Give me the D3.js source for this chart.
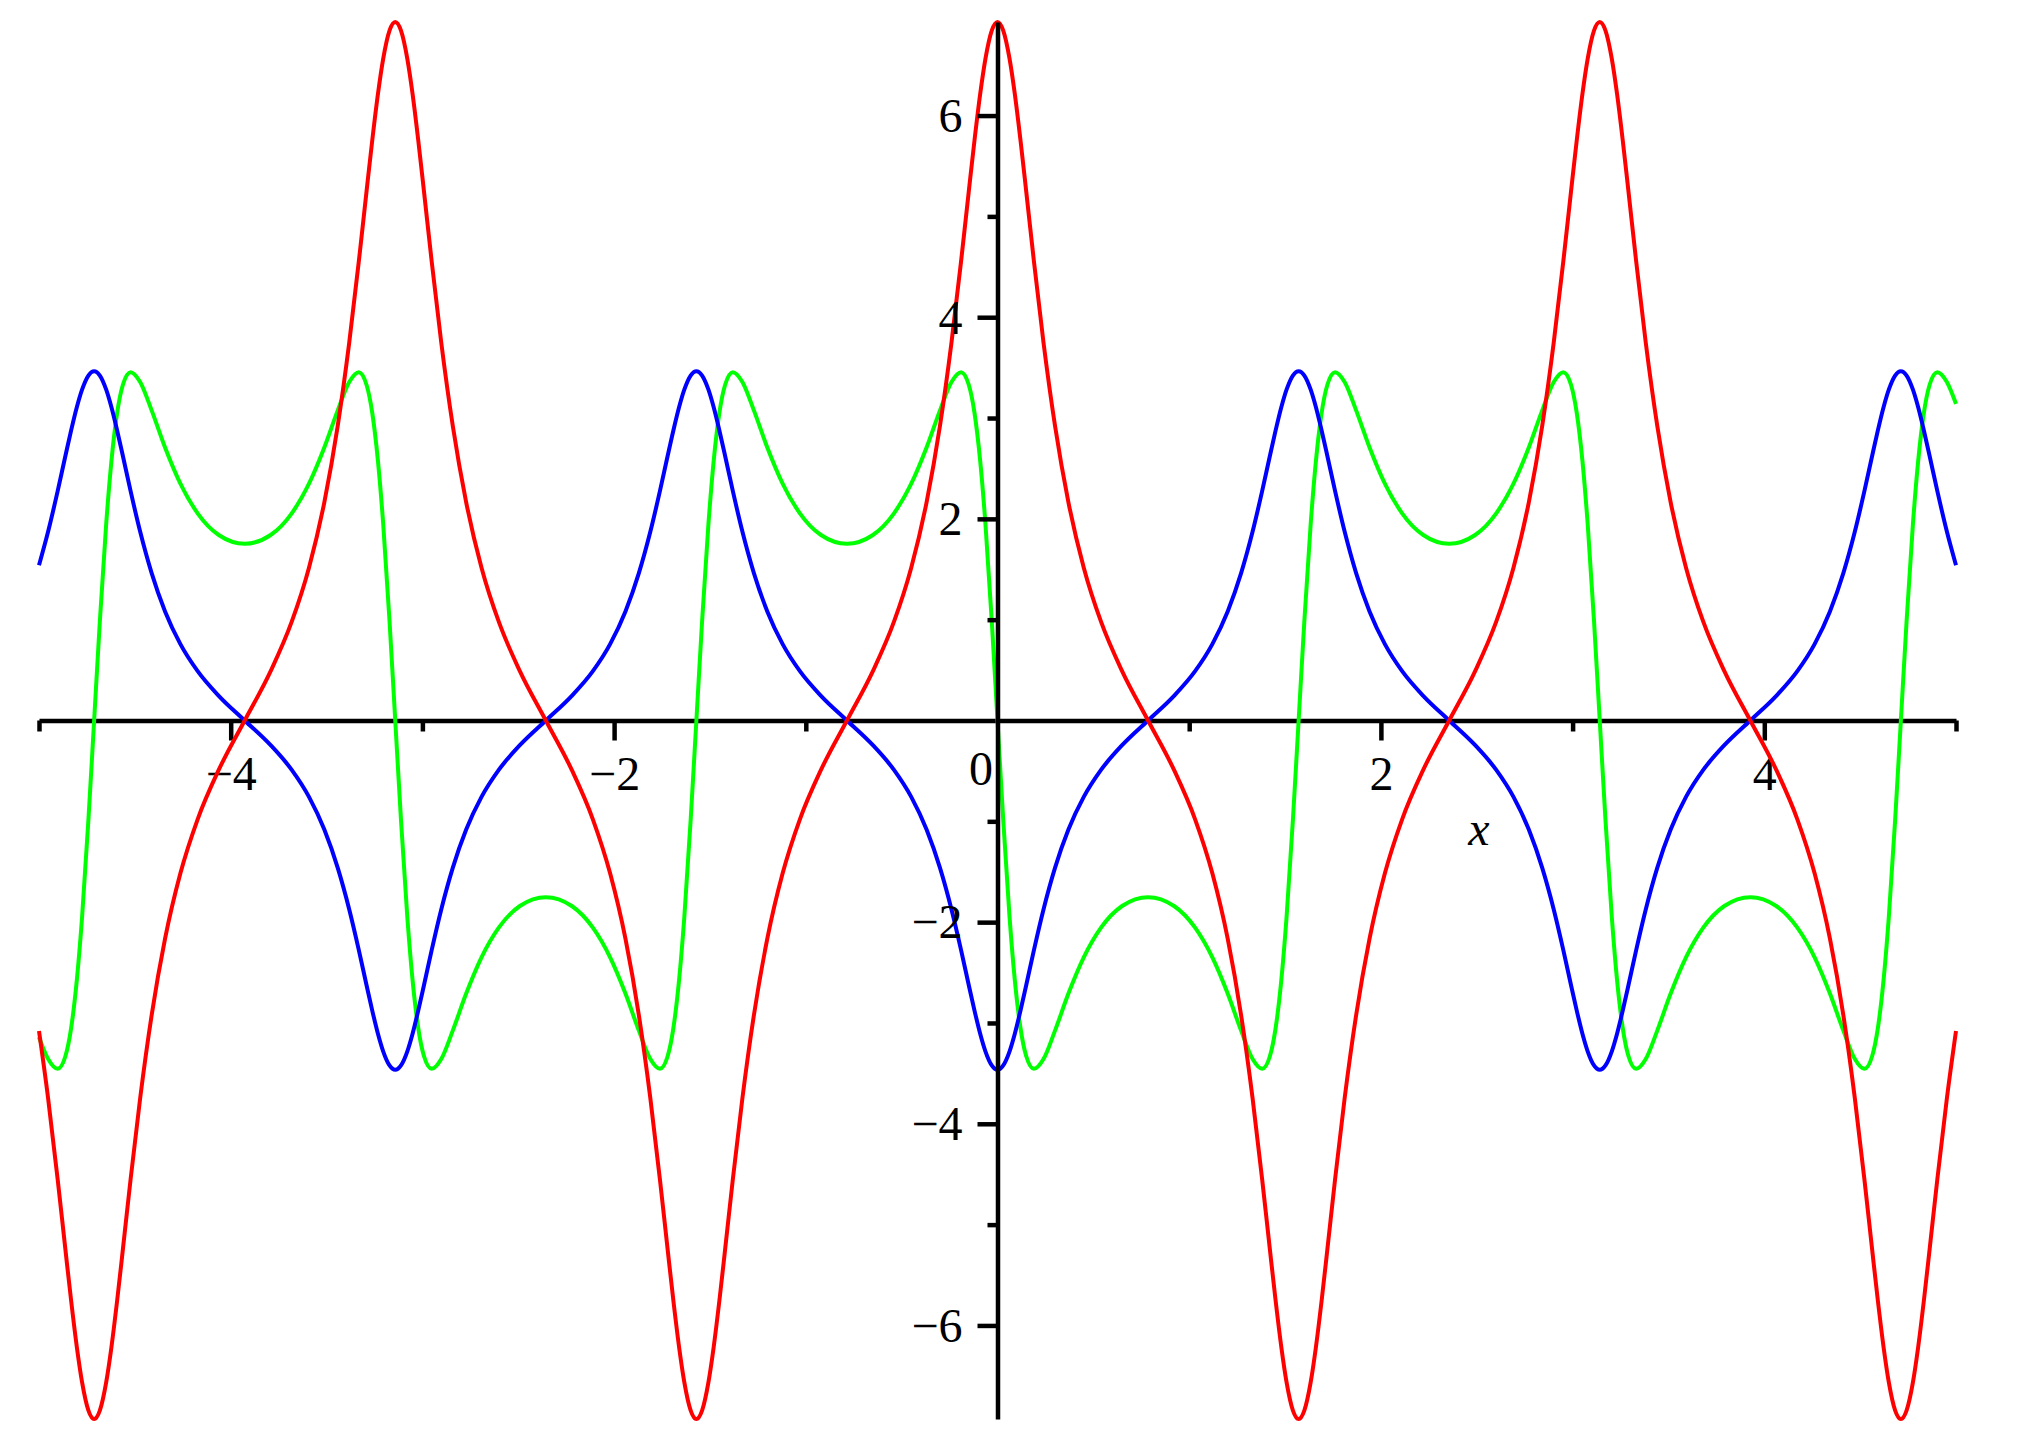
<!DOCTYPE html>
<html><head><meta charset="utf-8">
<script src="https://cdn.jsdelivr.net/npm/d3@7"></script>
<style>html,body{margin:0;padding:0;background:#fff;} svg{display:block;background:#fff;}</style>
</head><body>
<svg id="chart" width="2019" height="1439"></svg>
<script>
// Sample abscissae (denser where curves are steep)
const xValues = [
-5,-4.9524,-4.9024,-4.8624,-4.8324,-4.8024,-4.7754,-4.7424,-4.7124,-4.6824,-4.6494,-4.6224,-4.5924,-4.5624,-4.5224,-4.4724,-4.4124,-4.3424,-4.2624,-4.1724,-4.0624,-3.9270,
-3.7916,-3.6816,-3.5916,-3.5116,-3.4416,-3.3816,-3.3316,-3.2916,-3.2616,-3.2316,-3.2046,-3.1716,-3.1416,-3.1116,-3.0786,-3.0516,-3.0216,-2.9916,-2.9516,-2.9016,-2.8416,-2.7716,-2.6916,-2.6016,-2.4916,-2.3562,
-2.2208,-2.1108,-2.0208,-1.9408,-1.8708,-1.8108,-1.7608,-1.7208,-1.6908,-1.6608,-1.6338,-1.6008,-1.5708,-1.5408,-1.5078,-1.4808,-1.4508,-1.4208,-1.3808,-1.3308,-1.2708,-1.2008,-1.1208,-1.0308,-0.9208,-0.7854,
-0.65,-0.54,-0.45,-0.37,-0.3,-0.24,-0.19,-0.15,-0.12,-0.09,-0.063,-0.03,0,0.03,0.063,0.09,0.12,0.15,0.19,0.24,0.3,0.37,0.45,0.54,0.65,0.7854,
0.9208,1.0308,1.1208,1.2008,1.2708,1.3308,1.3808,1.4208,1.4508,1.4808,1.5078,1.5408,1.5708,1.6008,1.6338,1.6608,1.6908,1.7208,1.7608,1.8108,1.8708,1.9408,2.0208,2.1108,2.2208,2.3562,
2.4916,2.6016,2.6916,2.7716,2.8416,2.9016,2.9516,2.9916,3.0216,3.0516,3.0786,3.1116,3.1416,3.1716,3.2046,3.2316,3.2616,3.2916,3.3316,3.3816,3.4416,3.5116,3.5916,3.6816,3.7916,3.9270,
4.0624,4.1724,4.2624,4.3424,4.4124,4.4724,4.5224,4.5624,4.5924,4.6224,4.6494,4.6824,4.7124,4.7424,4.7754,4.8024,4.8324,4.8624,4.9024,4.9524,5
];
const redValues = [
-3.080,-3.748,-4.554,-5.245,-5.754,-6.218,-6.562,-6.842,-6.928,-6.842,-6.562,-6.218,-5.754,-5.245,-4.554,-3.748,-2.923,-2.164,-1.516,-0.980,-0.490,0,
0.490,0.980,1.516,2.164,2.923,3.748,4.554,5.245,5.754,6.218,6.562,6.842,6.928,6.842,6.562,6.218,5.754,5.245,4.554,3.748,2.923,2.164,1.516,0.980,0.490,0,
-0.490,-0.980,-1.516,-2.164,-2.923,-3.748,-4.554,-5.245,-5.754,-6.218,-6.562,-6.842,-6.928,-6.842,-6.562,-6.218,-5.754,-5.245,-4.554,-3.748,-2.923,-2.164,-1.516,-0.980,-0.490,0,
0.490,0.980,1.516,2.164,2.923,3.748,4.554,5.245,5.754,6.218,6.562,6.842,6.928,6.842,6.562,6.218,5.754,5.245,4.554,3.748,2.923,2.164,1.516,0.980,0.490,0,
-0.490,-0.980,-1.516,-2.164,-2.923,-3.748,-4.554,-5.245,-5.754,-6.218,-6.562,-6.842,-6.928,-6.842,-6.562,-6.218,-5.754,-5.245,-4.554,-3.748,-2.923,-2.164,-1.516,-0.980,-0.490,0,
0.490,0.980,1.516,2.164,2.923,3.748,4.554,5.245,5.754,6.218,6.562,6.842,6.928,6.842,6.562,6.218,5.754,5.245,4.554,3.748,2.923,2.164,1.516,0.980,0.490,0,
-0.490,-0.980,-1.516,-2.164,-2.923,-3.748,-4.554,-5.245,-5.754,-6.218,-6.562,-6.842,-6.928,-6.842,-6.562,-6.218,-5.754,-5.245,-4.554,-3.748,-3.080
];
const blueValues = [
1.540,1.874,2.277,2.623,2.877,3.109,3.281,3.421,3.464,3.421,3.281,3.109,2.877,2.623,2.277,1.874,1.462,1.082,0.758,0.490,0.245,0,
-0.245,-0.490,-0.758,-1.082,-1.462,-1.874,-2.277,-2.623,-2.877,-3.109,-3.281,-3.421,-3.464,-3.421,-3.281,-3.109,-2.877,-2.623,-2.277,-1.874,-1.462,-1.082,-0.758,-0.490,-0.245,0,
0.245,0.490,0.758,1.082,1.462,1.874,2.277,2.623,2.877,3.109,3.281,3.421,3.464,3.421,3.281,3.109,2.877,2.623,2.277,1.874,1.462,1.082,0.758,0.490,0.245,0,
-0.245,-0.490,-0.758,-1.082,-1.462,-1.874,-2.277,-2.623,-2.877,-3.109,-3.281,-3.421,-3.464,-3.421,-3.281,-3.109,-2.877,-2.623,-2.277,-1.874,-1.462,-1.082,-0.758,-0.490,-0.245,0,
0.245,0.490,0.758,1.082,1.462,1.874,2.277,2.623,2.877,3.109,3.281,3.421,3.464,3.421,3.281,3.109,2.877,2.623,2.277,1.874,1.462,1.082,0.758,0.490,0.245,0,
-0.245,-0.490,-0.758,-1.082,-1.462,-1.874,-2.277,-2.623,-2.877,-3.109,-3.281,-3.421,-3.464,-3.421,-3.281,-3.109,-2.877,-2.623,-2.277,-1.874,-1.462,-1.082,-0.758,-0.490,-0.245,0,
0.245,0.490,0.758,1.082,1.462,1.874,2.277,2.623,2.877,3.109,3.281,3.421,3.464,3.421,3.281,3.109,2.877,2.623,2.277,1.874,1.540
];
const greenValues = [
-3.141,-3.358,-3.455,-3.330,-3.051,-2.569,-1.952,-0.991,0,0.991,1.952,2.569,3.051,3.330,3.455,3.358,3.076,2.708,2.349,2.055,1.840,1.753,
1.840,2.055,2.349,2.708,3.076,3.358,3.455,3.330,3.051,2.569,1.952,0.991,0,-0.991,-1.952,-2.569,-3.051,-3.330,-3.455,-3.358,-3.076,-2.708,-2.349,-2.055,-1.840,-1.753,
-1.840,-2.055,-2.349,-2.708,-3.076,-3.358,-3.455,-3.330,-3.051,-2.569,-1.952,-0.991,0,0.991,1.952,2.569,3.051,3.330,3.455,3.358,3.076,2.708,2.349,2.055,1.840,1.753,
1.840,2.055,2.349,2.708,3.076,3.358,3.455,3.330,3.051,2.569,1.952,0.991,0,-0.991,-1.952,-2.569,-3.051,-3.330,-3.455,-3.358,-3.076,-2.708,-2.349,-2.055,-1.840,-1.753,
-1.840,-2.055,-2.349,-2.708,-3.076,-3.358,-3.455,-3.330,-3.051,-2.569,-1.952,-0.991,0,0.991,1.952,2.569,3.051,3.330,3.455,3.358,3.076,2.708,2.349,2.055,1.840,1.753,
1.840,2.055,2.349,2.708,3.076,3.358,3.455,3.330,3.051,2.569,1.952,0.991,0,-0.991,-1.952,-2.569,-3.051,-3.330,-3.455,-3.358,-3.076,-2.708,-2.349,-2.055,-1.840,-1.753,
-1.840,-2.055,-2.349,-2.708,-3.076,-3.358,-3.455,-3.330,-3.051,-2.569,-1.952,-0.991,0,0.991,1.952,2.569,3.051,3.330,3.455,3.358,3.141
];
const xMajorTicks = [-4, -2, 2, 4];
const xMinorTicks = [-5, -3, -1, 1, 3, 5];
const yMajorTicks = [-6, -4, -2, 2, 4, 6];
const yMinorTicks = [-5, -3, -1, 1, 3, 5];
const originLabel = "0";
const xAxisTitle = "x";
const seriesColors = {green: "#00ff00", blue: "#0000ff", red: "#ff0000"};

const svg = d3.select("#chart");
const FONT = "'Liberation Serif','Times New Roman',serif";
const x = d3.scaleLinear().domain([-5, 5]).range([39, 1956]);
const y = d3.scaleLinear().domain([-6.928, 6.928]).range([1419, 22]);
const fmt = d => d < 0 ? "\u2212" + Math.abs(d) : String(d);

function styleAxis(g) {
  g.selectAll("path.domain").attr("stroke", "#000").attr("stroke-width", 4.5);
  g.selectAll(".tick line").attr("stroke", "#000").attr("stroke-width", 4.5);
  g.selectAll("text").attr("font-family", FONT).attr("font-size", 48).attr("fill", "#000");
}

// x axis (below curves)
const gx = svg.append("g").attr("transform", `translate(0,${y(0)})`);
gx.call(d3.axisBottom(x).tickValues(xMajorTicks).tickSize(20).tickSizeOuter(0).tickPadding(15).tickFormat(fmt));
styleAxis(gx);
const gx2 = svg.append("g").attr("transform", `translate(0,${y(0)})`);
gx2.call(d3.axisBottom(x).tickValues(xMinorTicks).tickSize(11).tickSizeOuter(0).tickFormat(""));
gx2.select("path.domain").remove();
styleAxis(gx2);

svg.append("text").attr("x", 981).attr("y", 785).attr("text-anchor", "middle")
  .attr("font-family", FONT).attr("font-size", 48).text(originLabel);
svg.append("text").attr("x", 1479).attr("y", 845).attr("text-anchor", "middle")
  .attr("font-family", FONT).attr("font-style", "italic").attr("font-size", 48).text(xAxisTitle);

// curves
const line = vals => d3.line()
  .x((d, i) => x(xValues[i]))
  .y(d => y(d))
  .curve(d3.curveMonotoneX)(vals);
[["green", greenValues], ["blue", blueValues], ["red", redValues]].forEach(([k, vals]) => {
  svg.append("path").attr("d", line(vals)).attr("fill", "none")
    .attr("stroke", seriesColors[k]).attr("stroke-width", 4).attr("stroke-linejoin", "round");
});

// y axis (on top)
const gy = svg.append("g").attr("transform", `translate(${x(0)},0)`);
gy.call(d3.axisLeft(y).tickValues(yMajorTicks).tickSize(20).tickSizeOuter(0).tickPadding(15).tickFormat(fmt));
styleAxis(gy);
gy.selectAll("text").attr("dy", "0.33em");
const gy2 = svg.append("g").attr("transform", `translate(${x(0)},0)`);
gy2.call(d3.axisLeft(y).tickValues(yMinorTicks).tickSize(10).tickSizeOuter(0).tickFormat(""));
gy2.select("path.domain").remove();
styleAxis(gy2);
</script>
</body></html>
